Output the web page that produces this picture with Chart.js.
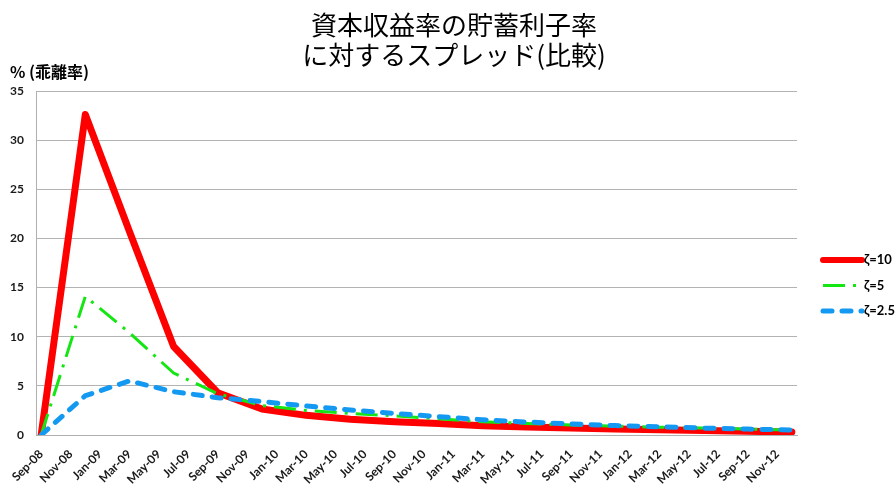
<!DOCTYPE html>
<html lang="ja">
<head>
<meta charset="utf-8">
<title>資本収益率の貯蓄利子率に対するスプレッド(比較)</title>
<script src="https://cdn.jsdelivr.net/npm/chart.js@4/dist/chart.umd.min.js"></script>
<style>
  html, body { margin: 0; padding: 0; background: #ffffff; }
  #wrap { width: 896px; height: 485px; }
</style>
</head>
<body>
<div id="wrap"><canvas id="c" width="896" height="485"></canvas></div>
<script>
// Quarterly observation dates (year-month)
const quarterDates = [
  '2008-09', '2008-12', '2009-03', '2009-06', '2009-09', '2009-12',
  '2010-03', '2010-06', '2010-09', '2010-12', '2011-03', '2011-06',
  '2011-09', '2011-12', '2012-03', '2012-06', '2012-09', '2012-12'
];

// Spread (%) for each zeta value
const zeta10 = [0, 32.6, 20.7, 9.0, 4.3, 2.65, 2.0, 1.6, 1.36, 1.18, 0.95, 0.82, 0.72, 0.62, 0.53, 0.45, 0.38, 0.3];
const zeta5 = [0, 14.1, 10.4, 6.3, 4.2, 3.0, 2.5, 2.2, 1.95, 1.65, 1.35, 1.18, 1.02, 0.9, 0.8, 0.7, 0.6, 0.5];
const zeta25 = [0, 4.0, 5.5, 4.4, 3.8, 3.4, 2.95, 2.55, 2.2, 1.87, 1.55, 1.32, 1.12, 0.96, 0.83, 0.7, 0.6, 0.5];

const seriesNames = ['ζ=10', 'ζ=5', 'ζ=2.5'];

// Bimonthly axis labels, starting at Sep-08
const tickLabels = [
  'Sep-08', 'Nov-08', 'Jan-09', 'Mar-09', 'May-09', 'Jul-09', 'Sep-09', 'Nov-09',
  'Jan-10', 'Mar-10', 'May-10', 'Jul-10', 'Sep-10', 'Nov-10', 'Jan-11', 'Mar-11',
  'May-11', 'Jul-11', 'Sep-11', 'Nov-11', 'Jan-12', 'Mar-12', 'May-12', 'Jul-12',
  'Sep-12', 'Nov-12'
];

const yTicks = [0, 5, 10, 15, 20, 25, 30, 35];

const chartTitle = ['資本収益率の貯蓄利子率', 'に対するスプレッド(比較)'];
const yAxisTitle = '% (乖離率)';

// Months elapsed since the first observation
const [baseY, baseM] = quarterDates[0].split('-').map(Number);
const monthIndex = d => {
  const [y, m] = d.split('-').map(Number);
  return (y - baseY) * 12 + (m - baseM);
};
const toPoints = vals => vals.map((v, i) => ({ x: monthIndex(quarterDates[i]), y: v }));

const latin = 'Lato, "Liberation Sans", sans-serif';
const cjk = '"Noto Sans CJK JP", "Noto Sans", sans-serif';

// Two-line heading centred on the page, plus the value-axis caption
const headings = {
  id: 'headings',
  afterDraw(chart) {
    const { ctx, chartArea, width } = chart;
    ctx.save();
    ctx.fillStyle = '#000';
    ctx.textAlign = 'center';
    ctx.textBaseline = 'alphabetic';
    ctx.font = '26px ' + cjk;
    chartTitle.forEach((line, i) => ctx.fillText(line, width / 2 + 6, 34.5 + i * 30));
    ctx.font = 'bold 16px ' + cjk;
    ctx.textAlign = 'left';
    ctx.textBaseline = 'middle';
    ctx.fillText(yAxisTitle, chartArea.left - 26, chartArea.top - 19);
    ctx.restore();
  }
};

// Legend on the right, drawn with each series' own stroke style
const sideLegend = {
  id: 'sideLegend',
  afterDraw(chart) {
    const { ctx, chartArea } = chart;
    const mid = (chartArea.top + chartArea.bottom) / 2;
    const x0 = chartArea.right + 26;
    const x1 = chartArea.right + 65;
    ctx.save();
    chart.data.datasets.forEach((ds, i) => {
      const y = mid - 3 + i * 25.5;
      ctx.beginPath();
      ctx.strokeStyle = ds.borderColor;
      ctx.lineWidth = ds.legendWidth;
      ctx.lineCap = ds.borderCapStyle || 'butt';
      ctx.setLineDash(ds.borderDash || []);
      ctx.moveTo(x0, y);
      ctx.lineTo(x1, y);
      ctx.stroke();
      ctx.setLineDash([]);
      ctx.font = 'bold 13px ' + latin;
      ctx.fillStyle = '#000';
      ctx.textAlign = 'left';
      ctx.textBaseline = 'middle';
      ctx.fillText(ds.label, x1 + 2, y);
    });
    ctx.restore();
  }
};

new Chart(document.getElementById('c'), {
  type: 'line',
  data: {
    datasets: [
      {
        label: seriesNames[0],
        data: toPoints(zeta10),
        borderColor: '#ff0000',
        borderWidth: 7,
        legendWidth: 6,
        borderJoinStyle: 'round',
        borderCapStyle: 'round',
        pointRadius: 0,
        tension: 0,
        order: 3
      },
      {
        label: seriesNames[1],
        data: toPoints(zeta5),
        borderColor: '#14e614',
        borderWidth: 3,
        legendWidth: 3,
        borderDash: [22, 8, 3, 8],
        pointRadius: 0,
        tension: 0,
        order: 2
      },
      {
        label: seriesNames[2],
        data: toPoints(zeta25),
        borderColor: '#1499f2',
        borderWidth: 5,
        legendWidth: 5,
        borderDash: [9, 10],
        borderCapStyle: 'round',
        pointRadius: 0,
        tension: 0,
        order: 1
      }
    ]
  },
  options: {
    responsive: false,
    animation: false,
    layout: { padding: { left: 10, right: 99, top: 91, bottom: 0 } },
    plugins: {
      legend: { display: false },
      tooltip: { enabled: false },
      title: { display: false }
    },
    scales: {
      x: {
        type: 'linear',
        min: -0.35,
        max: 51.35,
        afterBuildTicks: axis => {
          axis.ticks = tickLabels.map((_, i) => ({ value: i * 2 }));
        },
        // rotated labels may run past the left edge of the plot; keep a fixed label band
        afterFit: axis => {
          axis.paddingLeft = 0;
          axis.paddingRight = 0;
          axis.height = 50;
        },
        ticks: {
          autoSkip: false,
          minRotation: 45,
          maxRotation: 45,
          padding: 12,
          color: '#1a1a1a',
          font: { family: latin, size: 12, weight: 'bold' },
          callback: v => tickLabels[v / 2]
        },
        grid: { display: false, drawTicks: false },
        border: { display: true, color: '#b0b0b0', width: 1 }
      },
      y: {
        min: 0,
        max: 35,
        afterBuildTicks: axis => {
          axis.ticks = yTicks.map(v => ({ value: v }));
        },
        afterFit: axis => {
          axis.width = 26;
        },
        ticks: {
          padding: 12,
          color: '#1a1a1a',
          font: { family: latin, size: 12, weight: 'bold' }
        },
        grid: { color: '#b3b3b3', lineWidth: 1, drawTicks: false },
        border: { display: true, color: '#b0b0b0', width: 1 }
      }
    }
  },
  plugins: [headings, sideLegend]
});
</script>
</body>
</html>
